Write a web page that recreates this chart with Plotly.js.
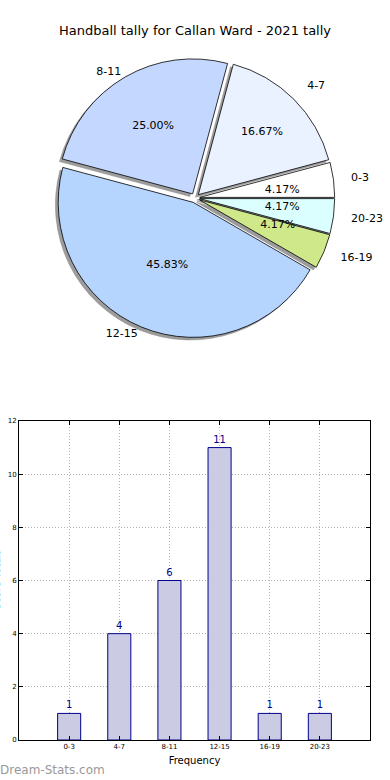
<!DOCTYPE html>
<html>
<head>
<meta charset="utf-8">
<script src="https://cdn.plot.ly/plotly-3.0.1.min.js"></script>
<style>html,body{margin:0;padding:0;background:#fff;}#chart{width:390px;height:780px;}</style>
</head>
<body>
<div id="chart"></div>
<script>
// ---- data ----
const categories = ['0-3', '4-7', '8-11', '12-15', '16-19', '20-23'];
const counts = [1, 4, 6, 11, 1, 1];
const sliceColors = ['#ffffff', '#eaf1ff', '#c4d8ff', '#b5d5ff', '#cfe98a', '#dbffff'];
const yTicks = [0, 2, 4, 6, 8, 10, 12];
const chartTitle = 'Handball tally for Callan Ward - 2021 tally';
const xTitle = 'Frequency';
const yTitle = 'Score Totals';
const watermark = 'Dream-Stats.com';

// ---- layout helpers (pixel geometry) ----
const W = 390, H = 780;
const cx = 195, cy = 198, R = 135, pullFrac = 0.035;
function dom(px, py, half) {
  return {x: [(px - half) / W, (px + half) / W], y: [1 - (py + half) / H, 1 - (py - half) / H]};
}
const pulls = categories.map(() => pullFrac);
const font = 'DejaVu Sans, Verdana, sans-serif';
const pctFmt = '%{percent:.2%}';
// which slices carry their percentage inside the wedge (large) vs. via the label ring (small)
const bigSlice = counts.map(v => v / counts.reduce((a, b) => a + b, 0) > 0.1);
// which category labels sit on the outer (side) ring vs. the inner (top/bottom) ring
const sideLabel = [true, true, false, false, true, true];

const common = {type: 'pie', labels: categories, values: counts, sort: false,
  direction: 'counterclockwise', rotation: 75, showlegend: false};

const shadow = Object.assign({}, common, {
  pull: pulls, domain: dom(cx - 2.8, cy + 2.6, R * (1 + pullFrac)),
  marker: {colors: categories.map(() => '#9c9c9c'), line: {color: '#8a8a8a', width: 0.5}},
  textinfo: 'none', hoverinfo: 'skip'
});
const main = Object.assign({}, common, {
  pull: pulls, domain: dom(cx, cy, R * (1 + pullFrac)),
  marker: {colors: sliceColors, line: {color: '#000000', width: 0.8}},
  texttemplate: bigSlice.map(b => b ? pctFmt : ''),
  textposition: bigSlice.map(b => b ? 'inside' : 'none'),
  insidetextorientation: 'horizontal',
  insidetextfont: {family: font, size: 11, color: '#000'}
});
const transparent = {colors: categories.map(() => 'rgba(0,0,0,0)'), line: {width: 0}};
const pctLabels = Object.assign({}, common, {
  domain: dom(cx, cy, 67), marker: transparent,
  texttemplate: bigSlice.map(b => b ? '' : pctFmt), textposition: 'outside',
  outsidetextfont: {family: font, size: 11, color: '#000'}, hoverinfo: 'skip'
});
const catLabelsSide = Object.assign({}, common, {
  domain: dom(cx, cy, 154), marker: transparent,
  texttemplate: sideLabel.map(s => s ? '%{label}' : ''), textposition: 'outside',
  outsidetextfont: {family: font, size: 11, color: '#000'}, hoverinfo: 'skip'
});
const catLabelsEnds = Object.assign({}, common, {
  domain: dom(cx, cy, 141), marker: transparent,
  texttemplate: sideLabel.map(s => s ? '' : '%{label}'), textposition: 'outside',
  outsidetextfont: {family: font, size: 11, color: '#000'}, hoverinfo: 'skip'
});
const bars = {
  type: 'bar', x: categories, y: counts, width: 0.46,
  marker: {color: '#cbcce3', line: {color: '#00008b', width: 1}},
  text: counts.map(String), textposition: 'outside', cliponaxis: false,
  textfont: {family: font, size: 10, color: '#00008b'},
  xaxis: 'x', yaxis: 'y', showlegend: false
};

const gridStyle = {showgrid: true, gridcolor: '#b4b4b4', griddash: '1px,2px', gridwidth: 1};
const layout = {
  width: W, height: H,
  margin: {l: 0, r: 0, t: 0, b: 0},
  paper_bgcolor: '#fff', plot_bgcolor: '#fff',
  font: {family: font, color: '#000'},
  showlegend: false,
  title: {text: chartTitle, font: {family: font, size: 13, color: '#000'}, x: 0.5, xanchor: 'center', y: 1 - 30 / H, yanchor: 'middle'},
  xaxis: Object.assign({
    domain: [19 / W, 370 / W], anchor: 'y', type: 'category', range: [-1, 6],
    showline: true, linecolor: '#000', linewidth: 1, mirror: 'ticks',
    ticks: 'inside', ticklen: 4, tickcolor: '#000',
    tickfont: {family: font, size: 7, color: '#000'},
    title: {text: xTitle, font: {family: font, size: 10, color: '#000'}, standoff: 6},
    fixedrange: true
  }, gridStyle),
  yaxis: Object.assign({
    domain: [1 - 740 / H, 1 - 421 / H], anchor: 'x', range: [0, 12],
    tickvals: yTicks, ticktext: yTicks.map(String),
    showline: true, linecolor: '#000', linewidth: 1, mirror: 'ticks',
    ticks: 'inside', ticklen: 4, tickcolor: '#000',
    zeroline: false,
    tickfont: {family: font, size: 7, color: '#000'},
    fixedrange: true
  }, gridStyle),
  annotations: [
    {text: yTitle, xref: 'paper', yref: 'paper', x: 0, y: 1 - 580 / H, xanchor: 'right', yanchor: 'middle', xshift: 3,
     textangle: -90, showarrow: false, font: {family: font, size: 10, color: '#000'}},
    {text: watermark, xref: 'paper', yref: 'paper', x: 0, y: 1 - 770 / H, xanchor: 'left', yanchor: 'middle', xshift: -2,
     showarrow: false, font: {family: font, size: 12, color: '#999999'}}
  ]
};

Plotly.newPlot('chart', [shadow, main, pctLabels, catLabelsSide, catLabelsEnds, bars], layout, {displayModeBar: false, staticPlot: true});
</script>
</body>
</html>
